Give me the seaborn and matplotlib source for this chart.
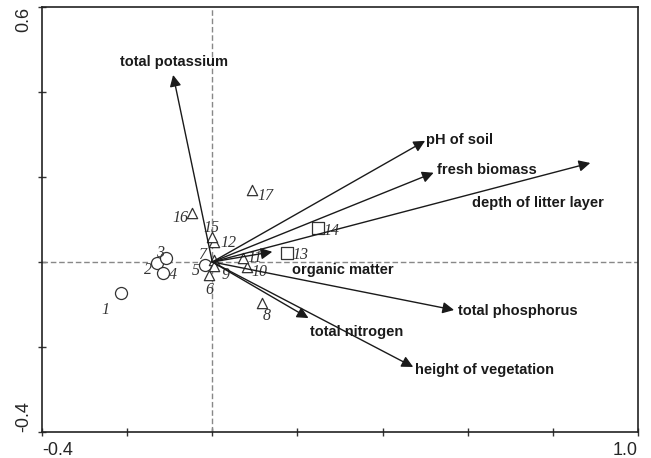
import pandas as pd
import matplotlib
matplotlib.use('Agg')
import matplotlib.pyplot as plt
import seaborn as sns

# environmental variables (arrow tips) and label positions
env_names = ['total potassium', 'pH of soil', 'fresh biomass', 'depth of litter layer',
             'organic matter', 'total phosphorus', 'total nitrogen', 'height of vegetation']
env_x = [-0.092, 0.500, 0.520, 0.888, 0.141, 0.568, 0.226, 0.472]
env_y = [0.440, 0.285, 0.210, 0.233, 0.024, -0.113, -0.132, -0.247]
lab_x = [-0.216, 0.503, 0.529, 0.611, 0.188, 0.578, 0.230, 0.477]
lab_y = [0.470, 0.287, 0.216, 0.139, -0.018, -0.115, -0.165, -0.254]

# sample sites
site_id = [str(i) for i in range(1, 18)]
site_type = ['circle', 'circle', 'circle', 'circle', 'circle', 'triangle', 'triangle',
             'triangle', 'triangle', 'triangle', 'triangle', 'triangle', 'square',
             'square', 'triangle', 'triangle', 'triangle']
site_x = [-0.214, -0.129, -0.108, -0.115, -0.016, -0.007, 0.004, 0.117, 0.005,
          0.082, 0.073, 0.005, 0.176, 0.249, 0.000, -0.047, 0.094]
site_y = [-0.073, -0.002, 0.009, -0.026, -0.007, -0.031, 0.004, -0.096, -0.009,
          -0.012, 0.009, 0.047, 0.021, 0.080, 0.059, 0.115, 0.169]
num_x = [-0.251, -0.150, -0.122, -0.092, -0.038, -0.007, -0.023, 0.127, 0.031,
         0.110, 0.099, 0.038, 0.207, 0.280, -0.002, -0.075, 0.125]
num_y = [-0.113, -0.019, 0.021, -0.031, -0.021, -0.066, 0.016, -0.127, -0.031,
         -0.024, 0.009, 0.045, 0.017, 0.073, 0.080, 0.104, 0.155]

sites = pd.DataFrame({'id': site_id, 'type': site_type, 'x': site_x, 'y': site_y})

sns.set_style('white')
plt.rcParams['font.family'] = ['Liberation Sans', 'DejaVu Sans']

fig = plt.figure(figsize=(6.51, 4.58), dpi=100)
ax = fig.add_axes([0.0645, 0.0568, 0.9155, 0.928])

ax.axhline(0, color='#888888', lw=1, ls=(0, (4, 2)), zorder=1)
ax.axvline(0, color='#888888', lw=1, ls=(0, (4, 2)), zorder=1)

markers = {'circle': 'o', 'triangle': '^', 'square': 's'}
sizes = {'circle': 75, 'triangle': 55, 'square': 80}
for t in ['circle', 'triangle', 'square']:
    sub = sites[sites['type'] == t]
    sns.scatterplot(data=sub, x='x', y='y', marker=markers[t], s=sizes[t],
                    facecolor='white', edgecolor='#333333', linewidth=0.9, ax=ax, zorder=3)

for i in range(len(site_id)):
    ax.text(num_x[i], num_y[i], site_id[i], family='Liberation Serif', style='italic',
            fontsize=11.5, color='#333333', ha='center', va='center', zorder=4)

for i in range(len(env_names)):
    ax.annotate('', xy=(env_x[i], env_y[i]), xytext=(0, 0),
                arrowprops=dict(arrowstyle='-|>', color='#1a1a1a', lw=1.0,
                                mutation_scale=17, shrinkA=0, shrinkB=0), zorder=5)
    ax.text(lab_x[i], lab_y[i], env_names[i], fontsize=10.5, fontweight='bold',
            color='#1a1a1a', ha='left', va='center', zorder=6)

ax.set_xlim(-0.4, 1.0)
ax.set_ylim(-0.4, 0.6)
ax.set_xticks([-0.4, -0.2, 0, 0.2, 0.4, 0.6, 0.8, 1.0])
ax.set_xticklabels(['-0.4', '', '', '', '', '', '', '1.0'])
ax.set_yticks([-0.4, -0.2, 0, 0.2, 0.4, 0.6])
ax.set_yticklabels(['-0.4', '', '', '', '', '0.6'], rotation=90, va='center')
xl = ax.get_xticklabels()
xl[0].set_ha('left')
xl[-1].set_ha('right')
yl = ax.get_yticklabels()
yl[0].set_va('bottom')
yl[-1].set_va('top')
ax.tick_params(direction='inout', length=6, width=1, color='#333333', labelsize=13,
               bottom=True, left=True, pad=4)
ax.set_xlabel('')
ax.set_ylabel('')
for sp in ax.spines.values():
    sp.set_color('#222222')
    sp.set_linewidth(1.2)
    sp.set_visible(True)

fig.savefig('out.png', dpi=100)
